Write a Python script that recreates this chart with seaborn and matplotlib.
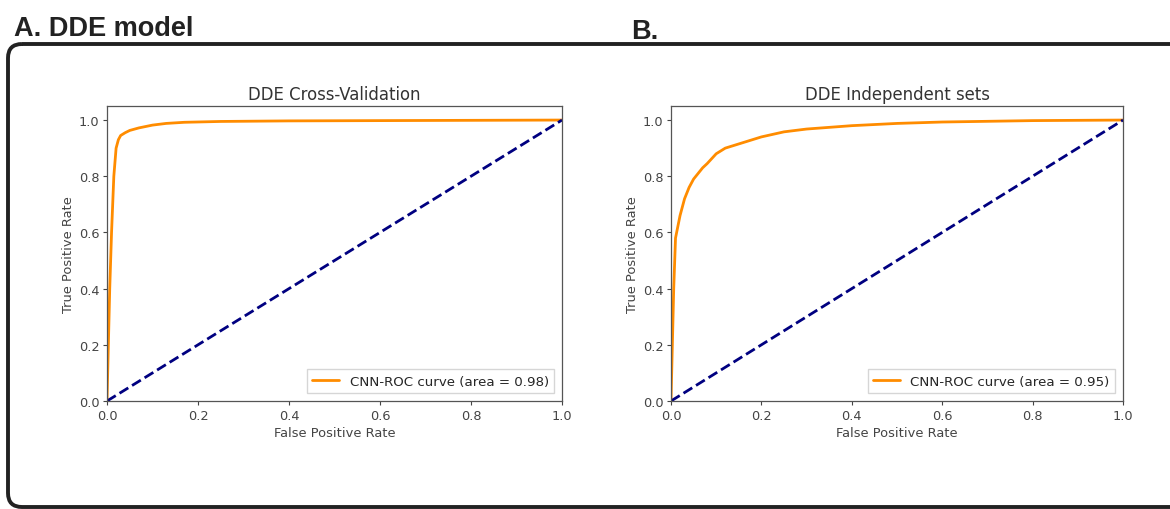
import numpy as np
import pandas as pd
import seaborn as sns
import matplotlib
matplotlib.use("Agg")
import matplotlib.pyplot as plt
from matplotlib.patches import FancyBboxPatch

# ---- data ----
cv_fpr = [0.0, 0.003, 0.006, 0.010, 0.015, 0.020, 0.025, 0.03, 0.04, 0.05, 0.07, 0.10, 0.13, 0.17, 0.25, 0.4, 0.6, 0.8, 1.0]
cv_tpr = [0.0, 0.20, 0.40, 0.60, 0.80, 0.90, 0.93, 0.945, 0.955, 0.963, 0.972, 0.982, 0.988, 0.992, 0.995, 0.997, 0.998, 0.999, 1.0]

ind_fpr = [0.0, 0.003, 0.006, 0.010, 0.015, 0.02, 0.03, 0.04, 0.05, 0.06, 0.07, 0.08, 0.10, 0.12, 0.15, 0.18, 0.20, 0.25, 0.30, 0.40, 0.50, 0.60, 0.80, 1.0]
ind_tpr = [0.0, 0.20, 0.40, 0.58, 0.62, 0.66, 0.72, 0.76, 0.79, 0.81, 0.83, 0.845, 0.88, 0.90, 0.915, 0.93, 0.94, 0.958, 0.968, 0.98, 0.988, 0.993, 0.998, 1.0]

chance = [0.0, 1.0]

titles = ["DDE Cross-Validation", "DDE Independent sets"]
aucs = [0.98, 0.95]
tick_vals = [0.0, 0.2, 0.4, 0.6, 0.8, 1.0]
tick_labels = ["0.0", "0.2", "0.4", "0.6", "0.8", "1.0"]

sns.set_style("white")
plt.rcParams["font.family"] = ["DejaVu Sans"]

fig = plt.figure(figsize=(11.7, 5.1), dpi=100)

# background frame and panel letters (pixel coordinates)
bg = fig.add_axes([0, 0, 1, 1], zorder=-1)
bg.set_xlim(0, 1170)
bg.set_ylim(510, 0)
bg.axis("off")
bg.add_patch(FancyBboxPatch((8, 45), 1220, 463, boxstyle="round,pad=0,rounding_size=14",
                            fill=False, edgecolor="#222222", linewidth=2.8))
bg.text(14, 36, "A. DDE model", fontsize=19.5, fontweight="bold",
        family=["Liberation Sans", "DejaVu Sans"], color="#222222", va="baseline")
bg.text(631, 39, "B.", fontsize=19.5, fontweight="bold",
        family=["Liberation Sans", "DejaVu Sans"], color="#222222", va="baseline")

axes_pos = [[107 / 1170, 1 - 402 / 510, 455 / 1170, 295 / 510],
            [671 / 1170, 1 - 402 / 510, 452 / 1170, 295 / 510]]
series = [(cv_fpr, cv_tpr), (ind_fpr, ind_tpr)]

for pos, (fx, ty), title, auc in zip(axes_pos, series, titles, aucs):
    ax = fig.add_axes(pos)
    df = pd.DataFrame({"fpr": fx, "tpr": ty})
    sns.lineplot(data=df, x="fpr", y="tpr", ax=ax, color="darkorange", lw=2,
                 label=f"CNN-ROC curve (area = {auc:.2f})", estimator=None, sort=False)
    dfc = pd.DataFrame({"x": chance, "y": chance})
    sns.lineplot(data=dfc, x="x", y="y", ax=ax, color="navy", lw=2, linestyle="--",
                 estimator=None, legend=False)
    ax.set_xlim(0.0, 1.0)
    ax.set_ylim(0.0, 1.05)
    ax.set_xticks(tick_vals)
    ax.set_yticks(tick_vals)
    ax.set_xticklabels(tick_labels)
    ax.set_yticklabels(tick_labels)
    ax.tick_params(axis="both", which="both", direction="out", length=3, width=0.8,
                   labelsize=9.3, colors="#444444", bottom=True, left=True, pad=2.5)
    for s in ax.spines.values():
        s.set_color("#555555")
        s.set_linewidth(0.9)
    ax.set_xlabel("False Positive Rate", fontsize=9.4, color="#444444", labelpad=3)
    ax.set_ylabel("True Positive Rate", fontsize=9.4, color="#444444", labelpad=3)
    ax.set_title(title, fontsize=11.9, color="#333333", pad=5)
    ax.legend(loc="lower right", fontsize=9.6, frameon=True, fancybox=False,
              edgecolor="#cccccc", framealpha=0.8, handlelength=2.0, borderpad=0.4,
              borderaxespad=0.6)

fig.savefig("out.png", dpi=100)
